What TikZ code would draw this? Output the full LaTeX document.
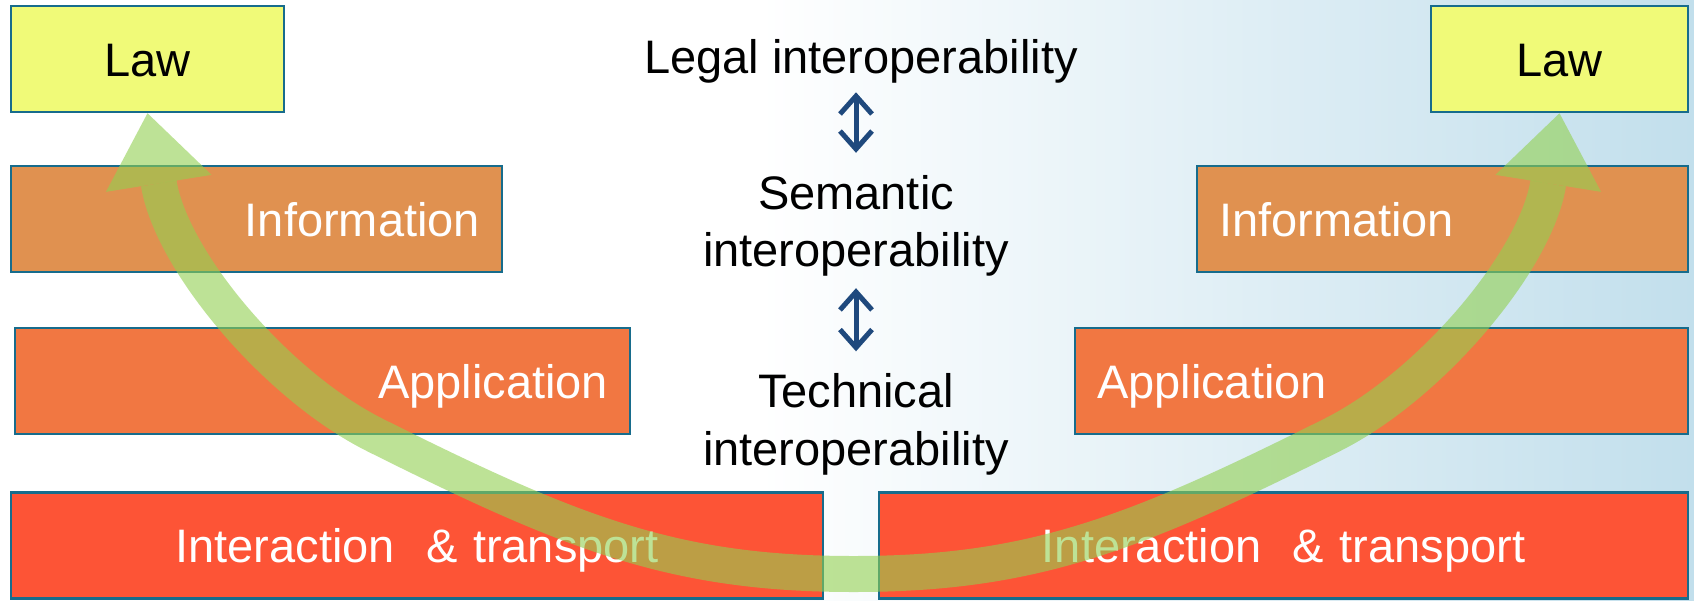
\documentclass[tikz,border=0pt]{standalone}
\usepackage{fontspec}
\setmainfont{Liberation Sans}
\usetikzlibrary{arrows.meta}

\definecolor{edgeblue}{RGB}{23,108,140}
\definecolor{lawyellow}{RGB}{240,250,120}
\definecolor{infoorange}{RGB}{224,145,80}
\definecolor{apporange}{RGB}{241,119,66}
\definecolor{netred}{RGB}{253,84,54}
\definecolor{arrowblue}{RGB}{31,73,125}
\definecolor{leafgreen}{RGB}{146,208,80}
\definecolor{bgblue}{RGB}{194,223,236}

\newcommand\slidefont{\fontsize{47}{57.5}\selectfont}

\begin{document}
\begin{tikzpicture}[x=1pt, y=-1pt,
    layer/.style={draw=edgeblue, line width=2.5pt, inner xsep=22pt, inner ysep=0pt,
        minimum height=106pt, text height=34pt, text depth=0pt, font=\slidefont},
    levelnote/.style={font=\slidefont, align=center},
    updown/.style={arrowblue, line width=5pt,
        {Straight Barb[length=18pt,width=32pt]}-{Straight Barb[length=18pt,width=32pt]}},
    bigarrow/.style={leafgreen, opacity=0.6, line width=36pt,
        {Triangle[width=107pt,length=71pt,line width=0pt]}-{Triangle[width=107pt,length=71pt,line width=0pt]}}]
    \useasboundingbox (0,0) rectangle (1694,600);
    \clip (0,0) rectangle (1694,600);
    \fill[white] (0,0) rectangle (1694,600);
    \shade[left color=white, right color=bgblue] (760,0) rectangle (1694,600);

    % the two stacks of layers
    \foreach \nm/\cx/\cy/\w/\fc/\tc/\al/\txt in {
        lawL/147.5/59/273/lawyellow/black/center/Law,
        lawR/1559.5/59/257/lawyellow/black/center/Law,
        infoL/256.5/219/491/infoorange/white/right/Information,
        infoR/1442.5/219/491/infoorange/white/left/Information,
        appL/322.5/381/615/apporange/white/right/Application,
        appR/1381.5/381/613/apporange/white/left/Application,
        netL/417/545.5/812/netred/white/center/{Interaction\ \ \& transport},
        netR/1283.5/545.5/809/netred/white/center/{Interaction\ \ \& transport}} {
        \pgfmathsetmacro\tw{\w-44}
        \node[layer, fill=\fc, text=\tc, align=\al, minimum width=\w pt, text width=\tw pt] (\nm) at (\cx,\cy) {\txt};
    }

    \node[levelnote, anchor=base] (legal) at (861,73) {Legal interoperability};
    \node[levelnote] (semantic) at (856,226) {Semantic\\interoperability};
    \node[levelnote] (technical) at (856,424.5) {Technical\\interoperability};

    \draw[updown, shorten <=6pt, shorten >=19pt] (legal.south -| semantic.north) -- (semantic.north);
    \draw[updown, shorten <=8pt, shorten >=19pt] (semantic.south) -- (technical.north);

    \coordinate (bendL) at (375,435);
    \coordinate (dip) at (853.5,574);
    \coordinate (bendR) at (1332,435);
    \draw[bigarrow] (lawL.south) .. controls (171.3,261.2) and (276.7,385.8) .. (bendL)
        .. controls (571.7,533.3) and (673.5,574) .. (dip)
        .. controls (1033.5,574) and (1135.3,533.3) .. (bendR)
        .. controls (1430.3,385.8) and (1535.7,261.2) .. (lawR.south);
\end{tikzpicture}
\end{document}
